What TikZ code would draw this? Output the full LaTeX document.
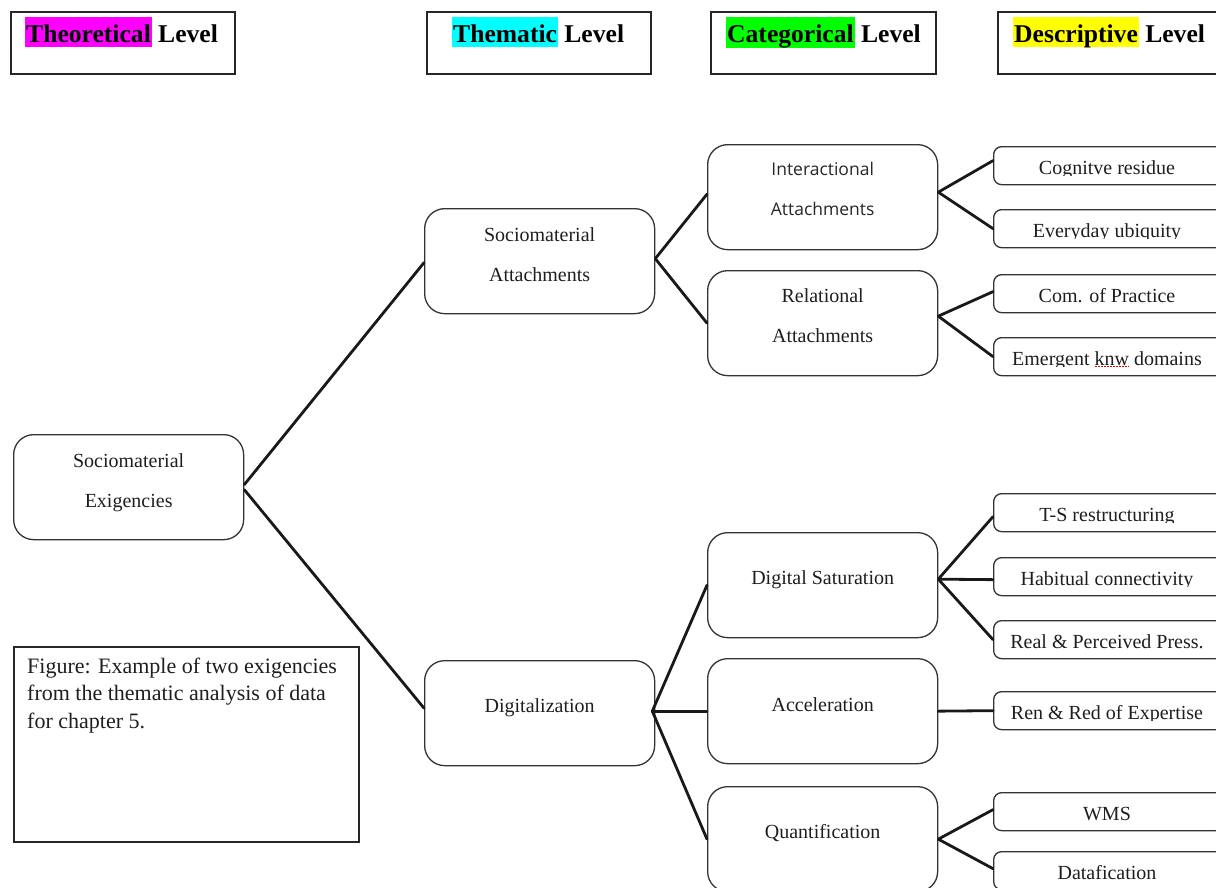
\documentclass[tikz,border=0pt]{standalone}
\usepackage{fontspec}
\setmainfont{Liberation Serif}
\newfontfamily\uisans{Open Sans}
\usetikzlibrary{calc}
\definecolor{hlmagenta}{RGB}{255,0,255}
\definecolor{hlcyan}{RGB}{0,255,255}
\definecolor{hlgreen}{RGB}{0,255,0}
\definecolor{hlyellow}{RGB}{255,255,0}
\definecolor{inkgray}{RGB}{30,30,30}

% highlighted word in a level heading
\newcommand{\hlbox}[2]{{\setlength{\fboxsep}{0pt}\colorbox{#1}{\rule[-5pt]{0pt}{30pt}\hspace{1pt}#2\hspace{1pt}}}}
% two centred lines, baseline on the first one
\newcommand{\twolines}[2]{\begin{tabular}[t]{@{}c@{}}#1\\#2\end{tabular}}

\begin{document}
\begin{tikzpicture}[x=1pt, y=-1pt,
  header/.style={draw=black!85, line width=1.6pt, rectangle, minimum width=224pt,
    minimum height=62pt, anchor=north west, inner sep=0pt},
  headtext/.style={anchor=base west, inner sep=0pt, text=black,
    font=\fontsize{25.6}{30}\selectfont\bfseries},
  bigbox/.style={draw=black!80, line width=1.3pt, rounded corners=20pt,
    minimum width=230pt, minimum height=105pt, anchor=north west, inner sep=0pt},
  smallbox/.style={draw=black!80, line width=1.3pt, rounded corners=8pt,
    minimum width=230pt, minimum height=38pt, anchor=north west, inner sep=0pt},
  serif/.style={anchor=base, inner sep=0pt, text=inkgray, font=\fontsize{20}{40}\selectfont},
  sans/.style={anchor=base, inner sep=0pt, text=black!85, font=\uisans\fontsize{17.5}{40}\selectfont},
  desctext/.style={anchor=base, inner sep=0pt, text=inkgray, font=\fontsize{20}{24}\selectfont},
  captext/.style={anchor=base west, inner sep=0pt, text=inkgray, font=\fontsize{22}{27.5}\selectfont},
  link/.style={line width=2.8pt, draw=black!90, line cap=round}]

\useasboundingbox (0,0) rectangle (1216,887);
\clip (0,0) rectangle (1216,887);

% level headings
\node[header] (hTheo) at (10,11) {};
\node[header] (hThem) at (426,11) {};
\node[header, minimum width=225pt] (hCat) at (710,11) {};
\node[header, minimum width=240pt] (hDesc) at (997,11) {};
\node[headtext] (hTheoT) at (25,42) {\hlbox{hlmagenta}{Theoretical} Level};
\node[headtext] (hThemT) at (452,42) {\hlbox{hlcyan}{Thematic} Level};
\node[headtext] (hCatT) at (726,42) {\hlbox{hlgreen}{Categorical} Level};
\node[headtext] (hDescT) at (1013,42) {\hlbox{hlyellow}{Descriptive} Level};

% theoretical, thematic and categorical boxes
\node[bigbox] (exig)   at (13,434)  {};
\node[bigbox] (socatt) at (424,208) {};
\node[bigbox] (digit)  at (424,660) {};
\node[bigbox] (inter)  at (707,144) {};
\node[bigbox] (relat)  at (707,270) {};
\node[bigbox] (digsat) at (707,532) {};
\node[bigbox] (accel)  at (707,658) {};
\node[bigbox] (quant)  at (707,786) {};

\node[serif] (exigT)   at ([yshift=20pt]exig.center)   {\twolines{Sociomaterial}{Exigencies}};
\node[serif] (socattT) at ([yshift=20pt]socatt.center) {\twolines{Sociomaterial}{Attachments}};
\node[serif] (digitT)  at ([yshift=1pt]digit.center)   {Digitalization};
\node[sans]  (interT)  at ([yshift=21.5pt]inter.center) {\twolines{Interactional}{Attachments}};
\node[serif] (relatT)  at ([yshift=21pt]relat.center)  {\twolines{Relational}{Attachments}};
\node[serif] (digsatT) at ([yshift=1pt]digsat.center)  {Digital Saturation};
\node[serif] (accelT)  at ([yshift=0pt]accel.center)   {Acceleration};
\node[serif] (quantT)  at ([yshift=1pt]quant.center)   {Quantification};

% descriptive boxes: text is cut off just below its baseline
\newcommand{\descbox}[3]{%
  \node[smallbox] (#1) at (993,#2) {};
  \begin{scope}
    \clip (993,#2) rectangle (1223,{#2+29.5});
    \node[desctext] (#1-t) at (1107,{#2+28}) {#3};
  \end{scope}}
\descbox{cog}{146}{Cognitve residue}
\descbox{every}{209}{Everyday ubiquity}
\descbox{com}{274}{Com. of Practice}
\descbox{emer}{337}{Emergent knw domains}
\descbox{ts}{493}{T-S restructuring}
\descbox{habit}{557}{Habitual connectivity}
\descbox{real}{620}{Real \& Perceived Press.}
\descbox{ren}{691}{Ren \& Red of Expertise}
\descbox{wms}{792}{WMS}
\descbox{data}{851}{Datafication}

% spell-check mark under "knw"
\draw[red!85!black, line width=0.8pt, dash pattern=on 1.5pt off 1.5pt]
  ($(emer-t.base)+(-12,1)$) -- ($(emer-t.base)+(22,1)$);

% caption
\node[draw=black!85, line width=1.5pt, rectangle, minimum width=345pt, minimum height=195pt,
  anchor=north west, inner sep=0pt] (cap) at (13,646) {};
\node[captext] (capT) at (27,673) {\begin{tabular}[t]{@{}l@{}}Figure: Example of two exigencies\\
  from the thematic analysis of data\\for chapter 5.\end{tabular}};

% connectors
\draw[link] ([yshift=2.5pt]exig.east) -- ([yshift=-1.5pt]socatt.west);
\draw[link] ([yshift=-2.5pt]exig.east) -- ([yshift=5pt]digit.west);
\draw[link] ([yshift=2.5pt]socatt.east) -- ([yshift=3pt]inter.west);
\draw[link] ([yshift=2.5pt]socatt.east) -- (relat.west);
\draw[link] ([xshift=-3pt,yshift=2pt]digit.east) -- (digsat.west);
\draw[link] ([xshift=-3pt,yshift=2pt]digit.east) -- ([yshift=0pt]accel.west);
\draw[link] ([xshift=-3pt,yshift=2pt]digit.east) -- (quant.west);
\draw[link] ([yshift=5pt]inter.east) -- ([yshift=5pt]cog.west);
\draw[link] ([yshift=5pt]inter.east) -- (every.west);
\draw[link] ([yshift=7pt]relat.east) -- ([yshift=2pt]com.west);
\draw[link] ([yshift=7pt]relat.east) -- (emer.west);
\draw[link] ([yshift=6pt]digsat.east) -- ([yshift=-4pt]ts.west);
\draw[link] ([yshift=6pt]digsat.east) -- ([yshift=-3pt]habit.west);
\draw[link] ([yshift=6pt]digsat.east) -- (real.west);
\draw[link] (accel.east) -- (ren.west);
\draw[link] (quant.east) -- ([yshift=2pt]wms.west);
\draw[link] (quant.east) -- ([yshift=2pt]data.west);
\end{tikzpicture}
\end{document}
